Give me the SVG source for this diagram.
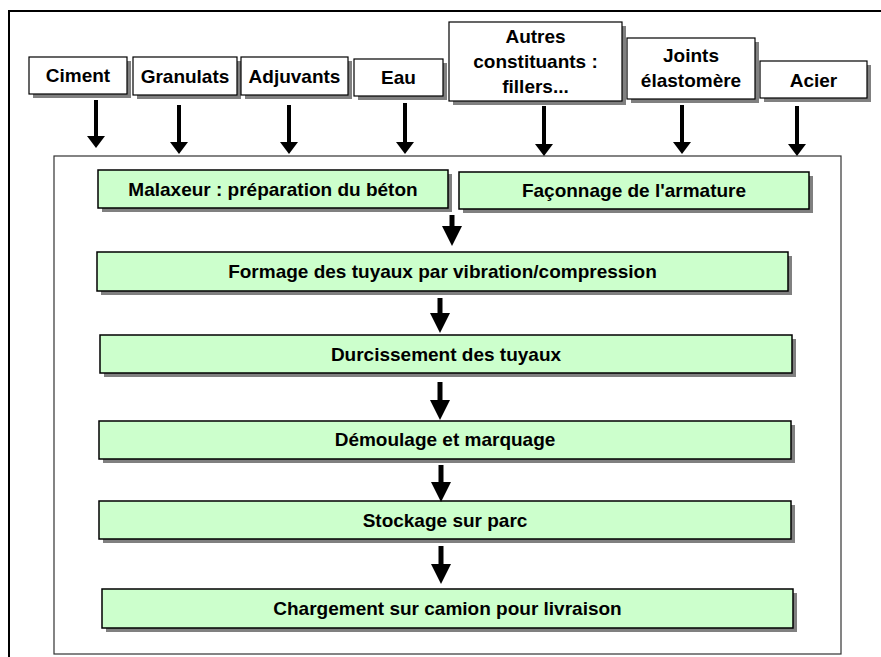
<svg xmlns="http://www.w3.org/2000/svg" width="881" height="657" viewBox="0 0 881 657">
<style>
.t{font-family:"Liberation Sans",Arial,sans-serif;font-weight:bold;font-size:19px;fill:#000;text-anchor:middle}
.in{fill:#fff;stroke:#000;stroke-width:1.2}
.st{fill:#ccffcc;stroke:#000;stroke-width:1.5}
.sh{fill:#808080}
.a1{stroke:#000;stroke-width:4;marker-end:url(#h1)}
.a2{stroke:#000;stroke-width:5;marker-end:url(#h2)}
</style>
<defs>
<marker id="h1" markerUnits="userSpaceOnUse" markerWidth="12" markerHeight="18" refX="0" refY="9" orient="auto"><path d="M0,0 L12,9 L0,18 z" fill="#000"/></marker>
<marker id="h2" markerUnits="userSpaceOnUse" markerWidth="20" markerHeight="20" refX="0" refY="10" orient="auto"><path d="M0,0 L20,10 L0,20 z" fill="#000"/></marker>
</defs>
<rect width="881" height="657" fill="#fff"/>
<rect x="9" y="11" width="900" height="700" fill="none" stroke="#000" stroke-width="2"/>
<rect id="frame" x="54" y="156" width="787" height="498" fill="#fff" stroke="#333" stroke-width="1.2"/>

<g id="ciment"><rect class="sh" x="33" y="61" width="98" height="37"/><rect class="in" x="29" y="57" width="98" height="37"/><text class="t" x="78" y="82">Ciment</text></g>
<g id="granulats"><rect class="sh" x="137" y="61" width="104" height="38"/><rect class="in" x="133" y="57" width="104" height="38"/><text class="t" x="185" y="82.5">Granulats</text></g>
<g id="adjuvants"><rect class="sh" x="245" y="61" width="107" height="38"/><rect class="in" x="241" y="57" width="107" height="38"/><text class="t" x="294.5" y="82.5">Adjuvants</text></g>
<g id="eau"><rect class="sh" x="358" y="63" width="89" height="37"/><rect class="in" x="354" y="59" width="89" height="37"/><text class="t" x="398.5" y="83.5">Eau</text></g>
<g id="autres"><rect class="sh" x="453" y="26" width="173" height="79"/><rect class="in" x="449" y="22" width="173" height="79"/><text class="t" x="535.5" y="42.5">Autres</text><text class="t" x="535.5" y="68">constituants :</text><text class="t" x="535.5" y="93">fillers...</text></g>
<g id="joints"><rect class="sh" x="631" y="42" width="128" height="61"/><rect class="in" x="627" y="38" width="128" height="61"/><text class="t" x="691" y="62">Joints</text><text class="t" x="691" y="87">élastomère</text></g>
<g id="acier"><rect class="sh" x="764" y="65" width="107" height="37"/><rect class="in" x="760" y="61" width="107" height="37"/><text class="t" x="813.5" y="86.5">Acier</text></g>

<g id="malaxeur"><rect class="sh" x="102" y="174" width="350" height="38"/><rect class="st" x="98" y="170" width="350" height="38"/><text class="t" x="273" y="196">Malaxeur : préparation du béton</text></g>
<g id="faconnage"><rect class="sh" x="463" y="176" width="350" height="37"/><rect class="st" x="459" y="172" width="350" height="37"/><text class="t" x="634" y="197">Façonnage de l'armature</text></g>
<g id="formage"><rect class="sh" x="101" y="256" width="691" height="39"/><rect class="st" x="97" y="252" width="691" height="39"/><text class="t" x="442.5" y="278">Formage des tuyaux par vibration/compression</text></g>
<g id="durcissement"><rect class="sh" x="104" y="339" width="692" height="38"/><rect class="st" x="100" y="335" width="692" height="38"/><text class="t" x="446" y="360.5">Durcissement des tuyaux</text></g>
<g id="demoulage"><rect class="sh" x="103" y="425" width="692" height="38"/><rect class="st" x="99" y="421" width="692" height="38"/><text class="t" x="445" y="446">Démoulage et marquage</text></g>
<g id="stockage"><rect class="sh" x="103" y="505" width="692" height="38"/><rect class="st" x="99" y="501" width="692" height="38"/><text class="t" x="445" y="526.5">Stockage sur parc</text></g>
<g id="chargement"><rect class="sh" x="106" y="593" width="691" height="39"/><rect class="st" x="102" y="589" width="691" height="39"/><text class="t" x="447.5" y="615">Chargement sur camion pour livraison</text></g>

<g id="connectors">
<line class="a1" x1="96" y1="100" x2="96" y2="136"/>
<line class="a1" x1="179" y1="105" x2="179" y2="142"/>
<line class="a1" x1="289" y1="105" x2="289" y2="142"/>
<line class="a1" x1="405" y1="103" x2="405" y2="142"/>
<line class="a1" x1="544" y1="106" x2="544" y2="144"/>
<line class="a1" x1="682" y1="105" x2="682" y2="142"/>
<line class="a1" x1="797" y1="106" x2="797" y2="144"/>
<line class="a2" x1="452" y1="215" x2="452" y2="226"/>
<line class="a2" x1="440" y1="298" x2="440" y2="313"/>
<line class="a2" x1="440" y1="382" x2="440" y2="400"/>
<line class="a2" x1="441" y1="465" x2="441" y2="482"/>
<line class="a2" x1="441" y1="546" x2="441" y2="564"/>
</g>
</svg>
